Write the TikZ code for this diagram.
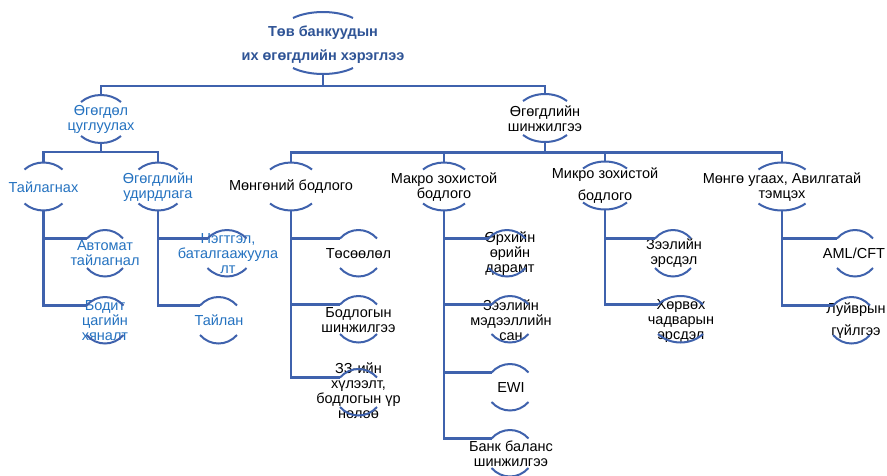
\documentclass[tikz,border=0pt]{standalone}
\usepackage{fontspec}
\setmainfont{Liberation Sans}
\definecolor{lc}{HTML}{3F62AD}
\definecolor{tb}{HTML}{2472C0}
\definecolor{rt}{HTML}{2F5496}
\tikzset{
  conn/.style={draw=lc, line width=2.2pt},
  arcline/.style={draw=lc, line width=2pt},
  lbl/.style={inner sep=0pt, align=center, font=\fontsize{14.5}{15}\selectfont},
  bluelbl/.style={lbl, text=tb},
  blacklbl/.style={lbl, text=black},
  rootlbl/.style={inner sep=0pt, align=center, text=rt, font=\fontsize{14.5}{24}\selectfont\bfseries},
}
% #1 name, #2 cx, #3 top peak y, #4 bottom trough y, #5 half width, #6 sag
\newcommand\arcpair[6]{%
  \draw[arcline] ({#2-#5},{#3+#6}) .. controls ({#2-0.45*#5},{#3-#6/3}) and ({#2+0.45*#5},{#3-#6/3}) .. ({#2+#5},{#3+#6});
  \draw[arcline] ({#2-#5},{#4-#6}) .. controls ({#2-0.45*#5},{#4+#6/3}) and ({#2+0.45*#5},{#4+#6/3}) .. ({#2+#5},{#4-#6});
  \coordinate (#1-t) at ({#2},{#3});
  \coordinate (#1-b) at ({#2},{#4});
  \coordinate (#1-l) at ({#2-#5},{#3+#6});
}
% upper node: #1 name, #2 cx, #3 cy, #4 half width
\newcommand\uparcs[4]{\arcpair{#1}{#2}{#3-24.5}{#3+23.5}{#4}{7}}
% leaf: #1 name, #2 cx, #3 branch y, #4 half width
\newcommand\leafarcs[4]{\arcpair{#1}{#2}{#3-8}{#3+38.5}{#4}{8.5}}
\begin{document}
\begin{tikzpicture}[x=1pt,y=-1pt]
\fill[white] (0,0) rectangle (887,475);
\useasboundingbox (0,0) rectangle (887,475);

% ---------- root ----------
\node[rootlbl] (R) at (323,45) {Төв банкуудын\\их өгөгдлийн хэрэглээ};
\arcpair{R}{323}{12}{74}{30}{6}

% ---------- level 1 ----------
\node[bluelbl] (A) at (101,119.5) {Өгөгдөл\\цуглуулах};
\uparcs{A}{101}{119.5}{20}
\node[blacklbl] (B) at (545,118.5) {Өгөгдлийн\\шинжилгээ};
\uparcs{B}{545}{118.5}{22}

\coordinate (h0) at (323,86);
\draw[conn] (R-b) -- (h0);
\draw[conn] (A-t) |- (h0) -| (B-t);

% ---------- left subtree ----------
\node[bluelbl] (A1) at (43.5,187) {Тайлагнах};
\uparcs{A1}{43.5}{187}{19}
\node[bluelbl] (A2) at (158,187) {Өгөгдлийн\\удирдлага};
\uparcs{A2}{158}{187}{19.5}

\coordinate (h1) at (101,152);
\draw[conn] (A-b) -- (h1);
\draw[conn] (A1-t) |- (h1) -| (A2-t);

\node[bluelbl] (A1a) at (105,253.5) {Автомат\\тайлагнал};
\leafarcs{A1a}{105}{238}{18}
\node[bluelbl] (A1b) at (105,320.5) {Бодит\\цагийн\\хяналт};
\leafarcs{A1b}{105}{305}{18.5}
\draw[conn] (A1-b) |- (A1a-l);
\draw[conn] (A1-b) |- (A1b-l);

\node[bluelbl] (A2a) at (228,253.5) {Нэгтгэл,\\баталгаажуула\\лт};
\leafarcs{A2a}{227}{238}{19.5}
\node[bluelbl] (A2b) at (219,320.5) {Тайлан};
\leafarcs{A2b}{218.5}{305}{18.5}
\draw[conn] (A2-b) |- (A2a-l);
\draw[conn] (A2-b) |- (A2b-l);

% ---------- right subtree ----------
\node[blacklbl] (B1) at (291,187) {Мөнгөний бодлого};
\uparcs{B1}{291}{187}{21}
\node[blacklbl] (B2) at (444,187) {Макро зохистой\\бодлого};
\uparcs{B2}{444}{187}{21}
\node[blacklbl] (B3) at (605,186) {Микро зохистой\\[7pt]бодлого};
\uparcs{B3}{605}{186}{22}
\node[blacklbl] (B4) at (782,187) {Мөнгө угаах, Авилгатай\\тэмцэх};
\uparcs{B4}{782}{187}{23.5}

\coordinate (h2) at (545,152.5);
\draw[conn] (B-b) -- (h2);
\draw[conn] (B1-t) |- (h2) -| (B4-t);
\draw[conn] (B2-t) -- (B2-t |- h2);
\draw[conn] (B3-t) -- (B3-t |- h2);

% leaves of B1
\node[blacklbl] (B1a) at (358.5,253.5) {Төсөөлөл};
\leafarcs{B1a}{358.5}{238}{18.5}
\node[blacklbl] (B1b) at (358.5,320) {Бодлогын\\шинжилгээ};
\leafarcs{B1b}{358.5}{304}{18.5}
\node[blacklbl] (B1c) at (358.5,391) {ЗЗ-ийн\\хүлээлт,\\бодлогын үр\\нөлөө};
\leafarcs{B1c}{358.5}{377}{18.5}
\draw[conn] (B1-b) |- (B1a-l);
\draw[conn] (B1-b) |- (B1b-l);
\draw[conn] (B1-b) |- (B1c-l);

% leaves of B2
\node[blacklbl] (B2a) at (510,253.5) {Өрхийн\\өрийн\\дарамт};
\leafarcs{B2a}{507}{238}{18.5}
\node[blacklbl] (B2b) at (511,320) {Зээлийн\\мэдээллийн\\сан};
\leafarcs{B2b}{510}{304}{18.5}
\node[blacklbl] (B2c) at (511,387.5) {EWI};
\leafarcs{B2c}{510}{372}{18.5}
\node[blacklbl] (B2d) at (511,454) {Банк баланс\\шинжилгээ};
\leafarcs{B2d}{510}{438}{18.5}
\draw[conn] (B2-b) |- (B2a-l);
\draw[conn] (B2-b) |- (B2b-l);
\draw[conn] (B2-b) |- (B2c-l);
\draw[conn] (B2-b) |- (B2d-l);

% leaves of B3
\node[blacklbl] (B3a) at (674,253.5) {Зээлийн\\эрсдэл};
\leafarcs{B3a}{673}{238}{18}
\node[blacklbl] (B3b) at (681,321) {Хөрвөх\\чадварын\\эрсдэл};
\leafarcs{B3b}{680.5}{304}{22.5}
\draw[conn] (B3-b) |- (B3a-l);
\draw[conn] (B3-b) |- (B3b-l);

% leaves of B4
\node[blacklbl] (B4a) at (854,253.5) {AML/CFT};
\leafarcs{B4a}{855}{238}{18}
\node[blacklbl] (B4b) at (856,321) {Луйврын\\[7pt]гүйлгээ};
\leafarcs{B4b}{851.5}{305}{18.5}
\draw[conn] (B4-b) |- (B4a-l);
\draw[conn] (B4-b) |- (B4b-l);
\end{tikzpicture}
\end{document}
